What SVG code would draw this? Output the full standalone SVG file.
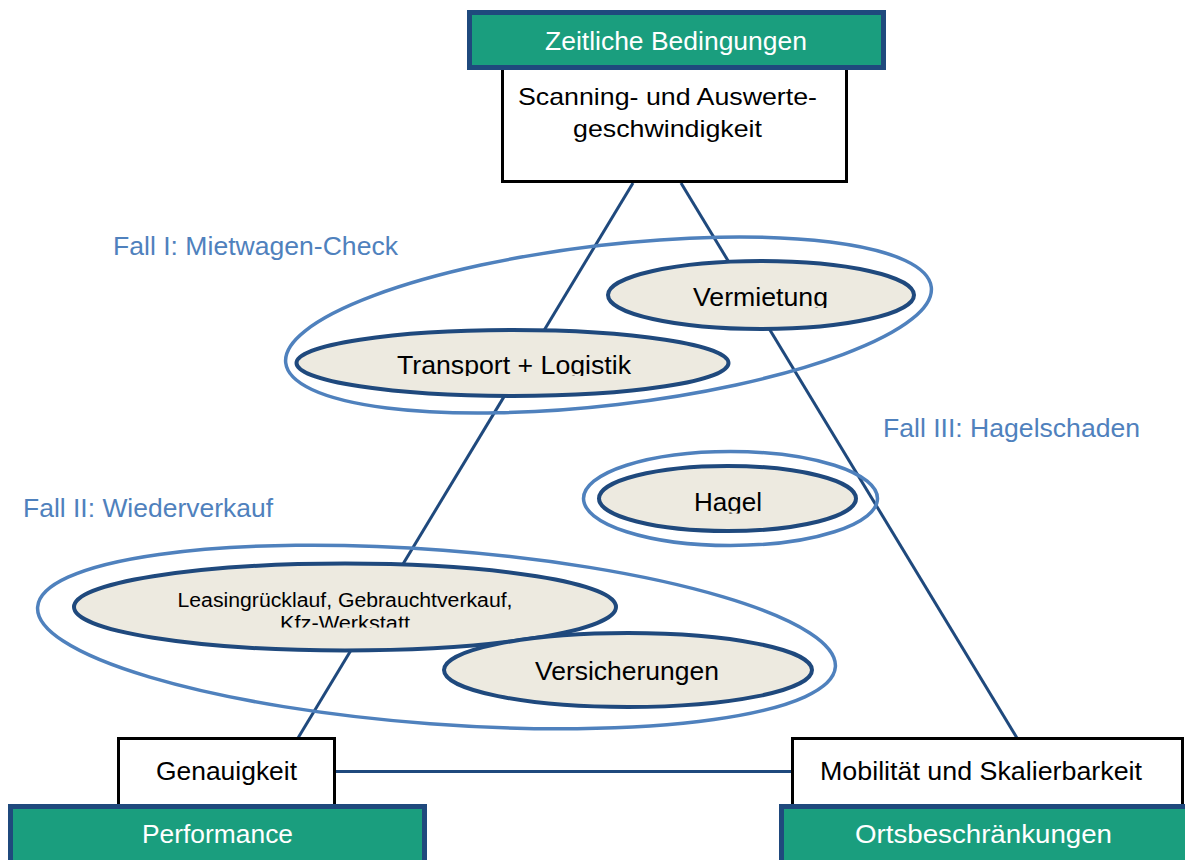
<svg xmlns="http://www.w3.org/2000/svg" width="1185" height="860" viewBox="0 0 1185 860">
<style>
text{font-family:"Liberation Sans",Arial,sans-serif;}
.conn{stroke:#1f497d;stroke-width:3;fill:none;}
.ell{fill:#edeae0;stroke:#1f497d;stroke-width:4;}
.grp{fill:none;stroke:#4f81bd;stroke-width:3.5;}
.box{fill:#ffffff;stroke:#000000;stroke-width:3;}
.cat{fill:#1a9e7e;stroke:#1f497d;stroke-width:5;}
.t{font-size:25px;fill:#000;text-anchor:middle;}
.tw{font-size:25px;fill:#fff;text-anchor:middle;}
.lbl{font-size:26px;fill:#4f81bd;}
</style>
<defs>
<clipPath id="cV"><rect x="600" y="260" width="320" height="48"/></clipPath>
<clipPath id="cT"><rect x="290" y="328" width="450" height="48"/></clipPath>
<clipPath id="cH"><rect x="595" y="462" width="270" height="51.5"/></clipPath>
<clipPath id="cK"><rect x="70" y="560" width="550" height="67.5"/></clipPath>
</defs>
<g id="connectors">
<line class="conn" x1="633" y1="183" x2="298" y2="738"/>
<line class="conn" x1="681" y1="183" x2="1017" y2="738"/>
<line class="conn" x1="336" y1="771.5" x2="791" y2="771.5"/>
</g>
<g id="node-vermietung">
<ellipse class="ell" cx="761" cy="295" rx="153" ry="34"/>
<text class="t" x="760.5" y="306" textLength="135" lengthAdjust="spacingAndGlyphs" clip-path="url(#cV)">Vermietung</text>
</g>
<g id="node-transport">
<ellipse class="ell" cx="512.5" cy="363" rx="216" ry="33"/>
<text class="t" x="514" y="374" textLength="234" lengthAdjust="spacingAndGlyphs" clip-path="url(#cT)">Transport + Logistik</text>
</g>
<g id="node-hagel">
<ellipse class="ell" cx="727.5" cy="498.5" rx="128.5" ry="32.5"/>
<text class="t" x="728" y="511" textLength="68" lengthAdjust="spacingAndGlyphs" clip-path="url(#cH)">Hagel</text>
</g>
<g id="node-leasing">
<ellipse class="ell" cx="345" cy="607" rx="271" ry="43.5"/>
<g clip-path="url(#cK)">
<text class="t" style="font-size:20px" x="345" y="607" textLength="335" lengthAdjust="spacingAndGlyphs">Leasingrücklauf, Gebrauchtverkauf,</text>
<text class="t" style="font-size:20px" x="345" y="630" textLength="130" lengthAdjust="spacingAndGlyphs">Kfz-Werkstatt</text>
</g>
</g>
<g id="node-versicherungen">
<ellipse class="ell" cx="628" cy="670" rx="184" ry="37"/>
<text class="t" x="627" y="680" textLength="184" lengthAdjust="spacingAndGlyphs">Versicherungen</text>
</g>
<g id="group-fall1">
<ellipse class="grp" cx="608.5" cy="325" rx="325" ry="80" transform="rotate(-6.7 608.5 325)"/>
<text class="lbl" x="113" y="255" textLength="285" lengthAdjust="spacingAndGlyphs">Fall I: Mietwagen-Check</text>
</g>
<g id="group-fall2">
<ellipse class="grp" cx="436.5" cy="637" rx="400" ry="87" transform="rotate(4.3 436.5 637)"/>
<text class="lbl" x="23" y="517" textLength="250" lengthAdjust="spacingAndGlyphs">Fall II: Wiederverkauf</text>
</g>
<g id="group-fall3">
<ellipse class="grp" cx="730.5" cy="498.5" rx="147" ry="47"/>
<text class="lbl" x="883" y="437" textLength="257" lengthAdjust="spacingAndGlyphs">Fall III: Hagelschaden</text>
</g>
<g id="node-scanning">
<rect class="box" x="502.5" y="60" width="344" height="121.5"/>
<text class="t" style="font-size:24px" x="667.5" y="105" textLength="299" lengthAdjust="spacingAndGlyphs">Scanning- und Auswerte-</text>
<text class="t" style="font-size:24px" x="667.5" y="137" textLength="189" lengthAdjust="spacingAndGlyphs">geschwindigkeit</text>
</g>
<g id="node-zeitliche">
<rect class="cat" x="469.5" y="12.5" width="414" height="55"/>
<text class="tw" x="676" y="50" textLength="262" lengthAdjust="spacingAndGlyphs">Zeitliche Bedingungen</text>
</g>
<g id="node-genauigkeit">
<rect class="box" x="118.5" y="738.5" width="216" height="80"/>
<text class="t" x="226.5" y="780" textLength="141" lengthAdjust="spacingAndGlyphs">Genauigkeit</text>
</g>
<g id="node-performance">
<rect class="cat" x="10.5" y="806.5" width="414" height="60"/>
<text class="tw" x="217.5" y="843" textLength="151" lengthAdjust="spacingAndGlyphs">Performance</text>
</g>
<g id="node-mobilitaet">
<rect class="box" x="792.5" y="738.5" width="390" height="80"/>
<text class="t" x="981" y="780" textLength="322" lengthAdjust="spacingAndGlyphs">Mobilität und Skalierbarkeit</text>
</g>
<g id="node-orts">
<rect class="cat" x="781.5" y="806.5" width="420" height="60"/>
<text class="tw" x="983.5" y="843" textLength="257" lengthAdjust="spacingAndGlyphs">Ortsbeschränkungen</text>
</g>
</svg>
